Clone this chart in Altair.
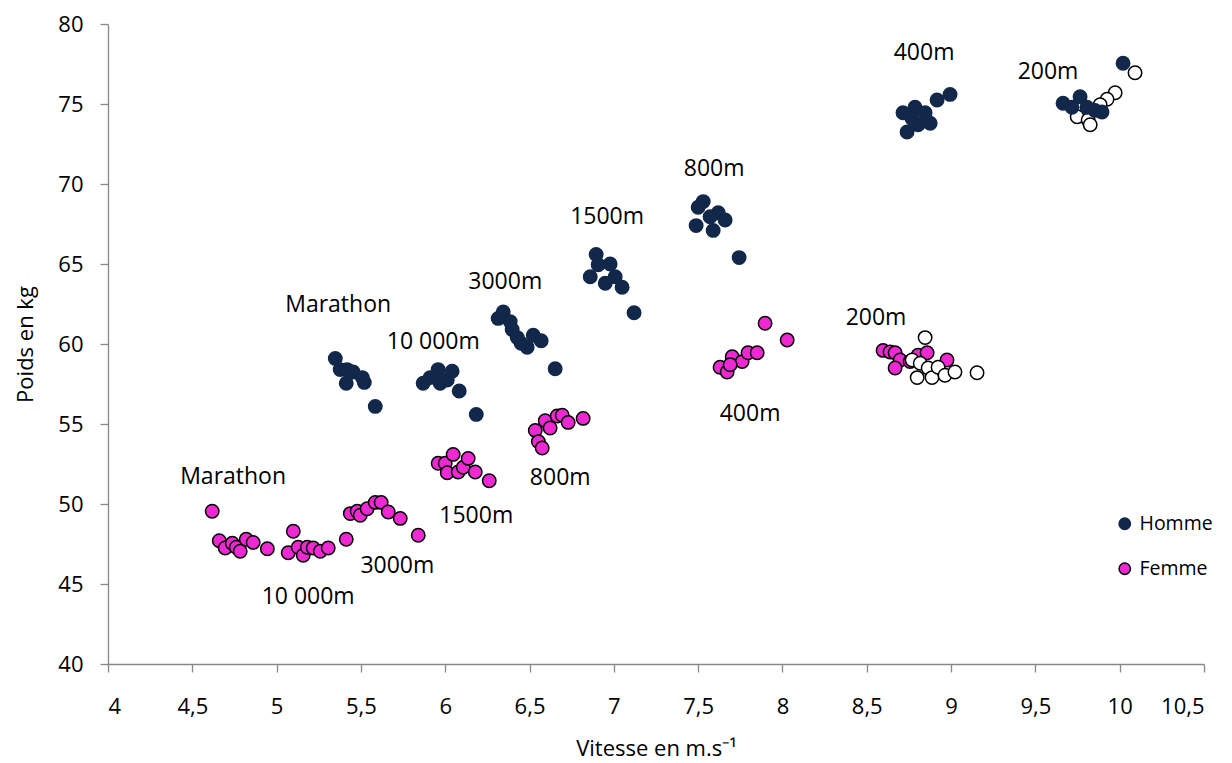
import altair as alt
import pandas as pd

# ---- Homme (navy filled circles) ----
homme_vitesse = [5.348, 5.377, 5.418, 5.454, 5.508, 5.520, 5.413, 5.585,
                 5.869, 5.911, 5.958, 5.970, 6.012, 6.041, 6.083, 6.184,
                 6.344, 6.314, 6.385, 6.397, 6.427, 6.486, 6.522, 6.569, 6.450, 6.652,
                 6.895, 6.860, 6.907, 6.978, 7.008, 6.949, 7.049, 7.120,
                 7.530, 7.500, 7.619, 7.660, 7.488, 7.589, 7.571, 7.743,
                 8.715, 8.786, 8.739, 8.804, 8.846, 8.876, 8.917, 8.994, 8.768,
                 9.664, 9.717, 9.765, 9.806, 9.854, 9.895, 10.020]
homme_poids = [59.1, 58.4, 58.4, 58.25, 57.9, 57.6, 57.55, 56.1,
               57.55, 57.9, 58.4, 57.55, 57.75, 58.3, 57.06, 55.6,
               62.0, 61.6, 61.4, 60.9, 60.4, 59.8, 60.55, 60.2, 60.05, 58.45,
               65.6, 64.2, 64.95, 65.0, 64.2, 63.8, 63.55, 61.95,
               68.9, 68.55, 68.2, 67.75, 67.4, 67.1, 67.95, 65.4,
               74.45, 74.8, 73.25, 73.7, 74.45, 73.8, 75.25, 75.6, 74.1,
               75.05, 74.8, 75.45, 74.8, 74.6, 74.5, 77.55]

# ---- Femme (magenta circles, black outline) ----
femme_vitesse = [4.618, 4.660, 4.695, 4.737, 4.761, 4.784, 4.820, 4.861, 4.945,
                 5.099, 5.069, 5.128, 5.158, 5.182, 5.217, 5.259, 5.306, 5.413,
                 5.437, 5.478, 5.496, 5.537, 5.585, 5.620, 5.662, 5.733, 5.840,
                 5.958, 6.000, 6.047, 6.012, 6.077, 6.107, 6.136, 6.178, 6.261,
                 6.534, 6.552, 6.575, 6.593, 6.622, 6.664, 6.694, 6.729, 6.818,
                 7.897, 8.028, 7.630, 7.672, 7.702, 7.761, 7.796, 7.850, 7.690,
                 8.597, 8.638, 8.668, 8.698, 8.668, 8.804, 8.858, 8.976, 8.757]
femme_poids = [49.55, 47.7, 47.25, 47.55, 47.3, 47.05, 47.8, 47.6, 47.2,
               48.3, 46.95, 47.3, 46.8, 47.3, 47.25, 47.05, 47.25, 47.8,
               49.4, 49.55, 49.3, 49.7, 50.1, 50.1, 49.5, 49.1, 48.05,
               52.55, 52.55, 53.1, 51.95, 52.0, 52.3, 52.85, 52.0, 51.45,
               54.6, 53.9, 53.5, 55.2, 54.75, 55.5, 55.55, 55.1, 55.35,
               61.3, 60.25, 58.55, 58.25, 59.2, 58.9, 59.45, 59.45, 58.7,
               59.6, 59.5, 59.45, 59.0, 58.5, 59.3, 59.45, 59.0, 58.9]

# ---- open (white) circles, no legend entry ----
autre_vitesse = [10.091, 9.973, 9.925, 9.884, 9.748, 9.813, 9.825,
                 8.846, 8.769, 8.817, 8.799, 8.864, 8.887, 8.923, 8.964, 9.023, 9.154]
autre_poids = [76.95, 75.7, 75.3, 74.95, 74.2, 74.0, 73.7,
               60.4, 59.0, 58.8, 57.9, 58.5, 57.9, 58.55, 58.05, 58.25, 58.2]

# ---- text annotations ----
label_texte = ["400m", "200m", "800m", "1500m", "3000m", "Marathon", "10 000m",
               "200m", "400m", "800m", "1500m", "Marathon", "3000m", "10 000m"]
label_vitesse = [8.84, 9.575, 7.595, 6.96, 6.356, 5.365, 5.929,
                 8.555, 7.808, 6.682, 6.184, 4.742, 5.716, 5.187]
label_poids = [78.19, 77.0, 70.94, 67.94, 63.875, 62.44, 60.125,
               61.625, 55.625, 51.625, 49.25, 51.69, 46.125, 44.19]

x_ticks = [4, 4.5, 5, 5.5, 6, 6.5, 7, 7.5, 8, 8.5, 9, 9.5, 10, 10.5]
y_ticks = [40, 45, 50, 55, 60, 65, 70, 75, 80]

FONT = "Open Sans"
NAVY = "#12284a"
MAGENTA = "#ee28d2"

df_femme = pd.DataFrame({"vitesse": femme_vitesse, "poids": femme_poids, "sexe": "Femme"})
df_homme = pd.DataFrame({"vitesse": homme_vitesse, "poids": homme_poids, "sexe": "Homme"})
df_autre = pd.DataFrame({"vitesse": autre_vitesse, "poids": autre_poids})
df_lab = pd.DataFrame({"texte": label_texte, "vitesse": label_vitesse, "poids": label_poids})

x_scale = alt.Scale(domain=[4, 10.5], nice=False, zero=False)
y_scale = alt.Scale(domain=[40, 80], nice=False, zero=False)

x_enc = alt.X("vitesse:Q", scale=x_scale,
              axis=alt.Axis(values=x_ticks, title="Vitesse en m.s⁻¹",
                            labelExpr="replace(format(datum.value, '~g'), '.', ',')",
                            labelBaseline="middle", labelPadding=34,
                            titleX=548, titleY=84, titleBaseline="middle"))
y_enc = alt.Y("poids:Q", scale=y_scale,
              axis=alt.Axis(values=y_ticks, title="Poids en kg", labelPadding=17,
                            titleX=-83, titleY=320, titleBaseline="middle",
                            titleAlign="center"))

sexe_domain = ["Homme", "Femme"]
legend = alt.Legend(title=None, orient="none", legendX=1007, legendY=490,
                    symbolSize=130, labelFontSize=19.5, labelFont=FONT,
                    labelOffset=5, rowPadding=24, padding=0, symbolStrokeWidth=1.5)

def pts(df):
    return alt.Chart(df).mark_circle(size=180, opacity=1, strokeWidth=1.5).encode(
        x=x_enc, y=y_enc,
        fill=alt.Fill("sexe:N", scale=alt.Scale(domain=sexe_domain, range=[NAVY, MAGENTA]), legend=legend),
        stroke=alt.Stroke("sexe:N", scale=alt.Scale(domain=sexe_domain, range=[NAVY, "#000000"]), legend=legend),
    )

femme = pts(df_femme)
homme = pts(df_homme)

autre = alt.Chart(df_autre).mark_circle(size=180, opacity=1, fill="white", stroke="black",
                                        strokeWidth=1.5).encode(x=x_enc, y=y_enc)

labels = alt.Chart(df_lab).mark_text(font=FONT, fontSize=23, color="black",
                                     align="center", baseline="middle").encode(
    x=x_enc, y=y_enc, text="texte:N")

chart = alt.layer(femme, autre, homme, labels).properties(
    width=1096, height=640,
    autosize=alt.AutoSizeParams(type="none"),
    padding={"left": 100, "top": 16, "right": 20, "bottom": 100},
).configure(background="white").configure_view(stroke=None).configure_axis(
    grid=False, domainColor="#888888", tickColor="#888888", domainWidth=1.3, tickWidth=1.3,
    tickSize=8, labelFont=FONT, labelFontSize=22, labelColor="black",
    titleFont=FONT, titleFontSize=22, titleColor="black", titleFontWeight="normal",
)

chart.save("out.html", embed_options={"renderer": "svg", "actions": False})
